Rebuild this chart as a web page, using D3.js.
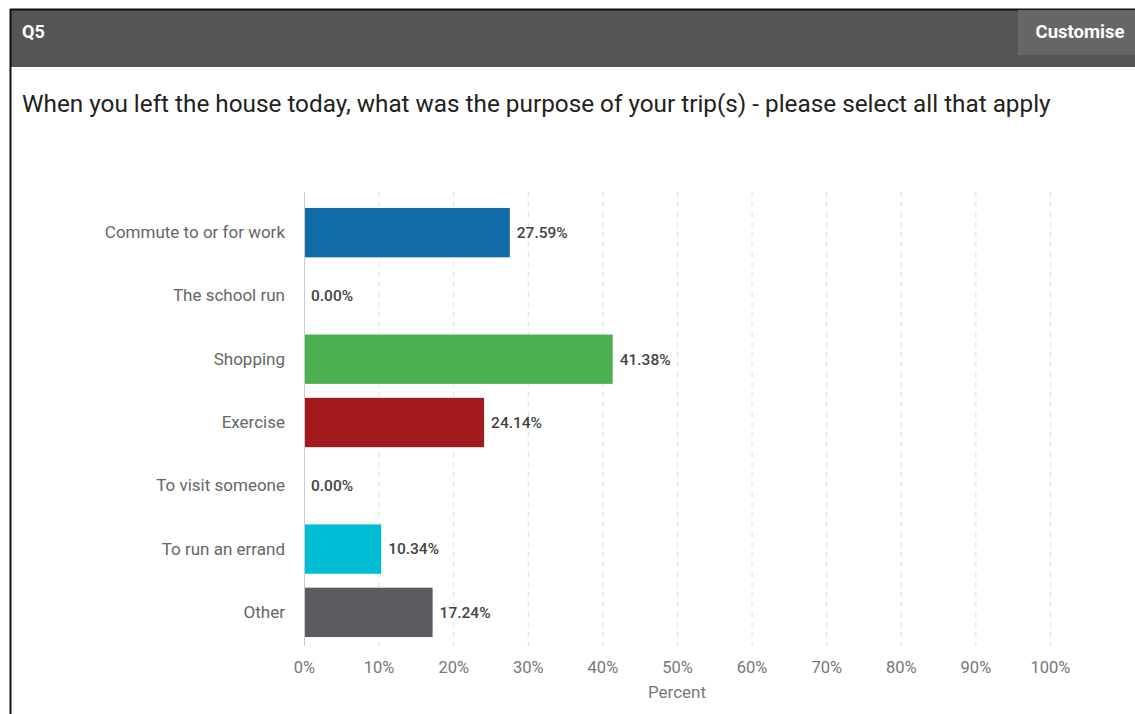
<!DOCTYPE html>
<html>
<head>
<meta charset="utf-8">
<script src="https://cdn.jsdelivr.net/npm/d3@7"></script>
<style>
  html, body { margin: 0; padding: 0; background: #fff; }
  body { width: 1135px; height: 714px; overflow: hidden; font-family: Roboto, "Noto Sans", sans-serif; }
  svg text { font-family: Roboto, "Noto Sans", sans-serif; }
</style>
</head>
<body>
<div id="chart"></div>
<script>
const categories = [
  'Commute to or for work',
  'The school run',
  'Shopping',
  'Exercise',
  'To visit someone',
  'To run an errand',
  'Other'
]
const values = [27.59, 0.0, 41.38, 24.14, 0.0, 10.34, 17.24]
const colors = ['#106ba8', '#888', '#4caf50', '#a31a1d', '#888', '#00bcd4', '#5e5a62']
const xTicks = [0, 10, 20, 30, 40, 50, 60, 70, 80, 90, 100]

const W = 1135, H = 714
const svg = d3.select('#chart').append('svg').attr('width', W).attr('height', H)

// panel frame + header
svg.append('rect').attr('x', 10).attr('y', 9).attr('width', W - 10).attr('height', 58).attr('fill', '#555')
svg.append('line').attr('x1', 10).attr('x2', W).attr('y1', 9.5).attr('y2', 9.5).attr('stroke', '#111').attr('stroke-width', 2)
svg.append('line').attr('x1', 10.5).attr('x2', 10.5).attr('y1', 9).attr('y2', H).attr('stroke', '#111').attr('stroke-width', 2)
svg.append('text').attr('x', 22).attr('y', 38).attr('fill', '#fff')
  .style('font-size', '18px').style('font-weight', 'bold').text('Q5')
svg.append('rect').attr('x', 1018).attr('y', 10).attr('width', W - 1018).attr('height', 45).attr('fill', '#666')
svg.append('text').attr('x', 1080).attr('y', 38).attr('text-anchor', 'middle').attr('fill', '#fff')
  .style('font-size', '18.5px').style('font-weight', 'bold').text('Customise')

svg.append('text').attr('x', 22).attr('y', 112).attr('fill', '#222')
  .style('font-size', '24.3px')
  .text('When you left the house today, what was the purpose of your trip(s) - please select all that apply')

// scales
const x = d3.scaleLinear().domain([0, 100]).range([304, 1050])
const y = d3.scaleBand().domain(categories).range([201, 644]).paddingInner(0.22).paddingOuter(0.11)

// grid
svg.append('g').selectAll('line').data(xTicks.slice(1)).join('line')
  .attr('x1', d => x(d) + 0.5).attr('x2', d => x(d) + 0.5)
  .attr('y1', 192).attr('y2', 646)
  .attr('stroke', '#ddd').attr('stroke-dasharray', '5,5')

// bars
svg.append('g').selectAll('rect').data(values).join('rect')
  .attr('x', x(0))
  .attr('y', (d, i) => y(categories[i]))
  .attr('width', d => x(d) - x(0))
  .attr('height', y.bandwidth())
  .attr('fill', (d, i) => colors[i])

// zero axis line
svg.append('line').attr('x1', x(0) + 0.5).attr('x2', x(0) + 0.5).attr('y1', 192).attr('y2', 646)
  .attr('stroke', '#ccc')

// value labels
svg.append('g').selectAll('text').data(values).join('text')
  .attr('x', d => x(d) + 7)
  .attr('y', (d, i) => y(categories[i]) + y.bandwidth() / 2)
  .attr('dy', '0.35em')
  .attr('fill', '#444')
  .style('font-size', '15.5px').style('font-weight', 500)
  .text(d => d.toFixed(2) + '%')

// category labels
const yAxis = svg.append('g').attr('transform', 'translate(285,0)')
  .call(d3.axisLeft(y).tickSize(0).tickPadding(0))
yAxis.select('.domain').remove()
yAxis.selectAll('text').attr('fill', '#666').style('font-size', '17px')

// x axis
const xAxis = svg.append('g').attr('transform', 'translate(0,654)')
  .call(d3.axisBottom(x).tickValues(xTicks).tickFormat(d => d + '%').tickSize(0).tickPadding(7))
xAxis.select('.domain').remove()
xAxis.selectAll('text').attr('fill', '#777').style('font-size', '16.5px')

svg.append('text').attr('x', x(50)).attr('y', 698).attr('text-anchor', 'middle')
  .attr('fill', '#777').style('font-size', '17px').text('Percent')
</script>
</body>
</html>
